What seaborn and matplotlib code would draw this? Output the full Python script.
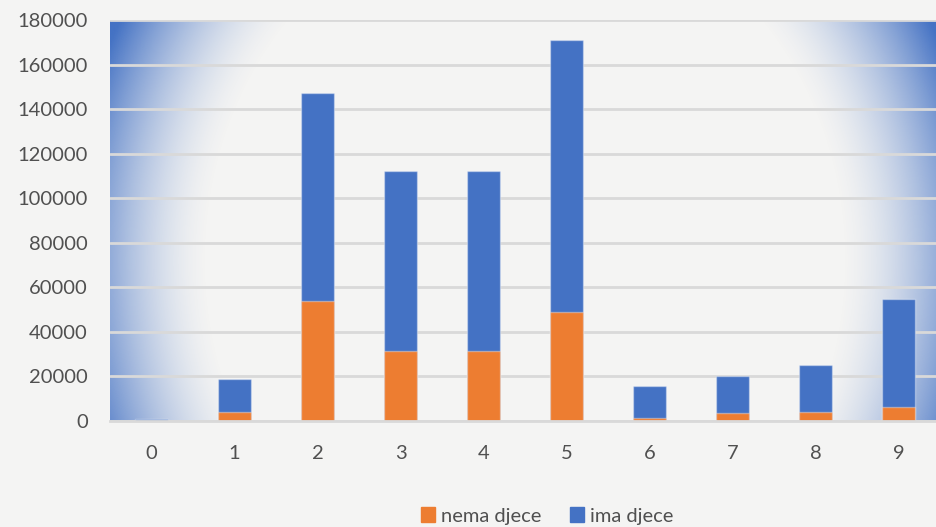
import numpy as np
import pandas as pd
import matplotlib
matplotlib.use("Agg")
import matplotlib.pyplot as plt
import seaborn as sns

# data
kategorije = ["0", "1", "2", "3", "4", "5", "6", "7", "8", "9"]
nema_djece = [200, 4200, 53700, 31300, 31300, 48800, 1200, 3600, 3900, 6200]
ima_djece = [900, 14600, 93500, 81100, 81100, 122300, 14500, 16500, 21300, 48700]
yticks = [0, 20000, 40000, 60000, 80000, 100000, 120000, 140000, 160000, 180000]

orange = "#ed7d31"
blue = "#4472c4"
text_col = "#505050"
bg = "#f4f4f3"

df = pd.DataFrame({"kat": kategorije, "nema": nema_djece, "ima": ima_djece})
df["ukupno"] = df["nema"] + df["ima"]

sns.set_style("white")
plt.rcParams["font.family"] = ["Lato", "DejaVu Sans"]

fig = plt.figure(figsize=(9.36, 5.27), dpi=100, facecolor=bg)
ax = fig.add_axes([110 / 936, 106 / 527, 830 / 936, 401 / 527])
ax.set_facecolor("none")

# soft blue gradient towards the sides of the plot area
nx, ny = 400, 200
xx, yy = np.meshgrid(np.linspace(-1, 1, nx), np.linspace(-1, 1, ny))
r = np.sqrt((xx / 0.82) ** 2 + ((-yy - 0.2) / 1.9) ** 2)
alpha = np.clip((r - 0.93) / 0.42, 0, 1) ** 1.6
rgba = np.zeros((ny, nx, 4))
rgba[..., :3] = matplotlib.colors.to_rgb(blue)
rgba[..., 3] = alpha
ax.imshow(rgba, extent=[0, 1, 0, 1], transform=ax.transAxes, origin="lower",
          aspect="auto", zorder=0, interpolation="bilinear")

sns.barplot(data=df, x="kat", y="ukupno", color=blue, width=0.4, ax=ax,
            saturation=1, edgecolor=(1, 1, 1, 0.35), linewidth=1, label="ima djece", zorder=2)
sns.barplot(data=df, x="kat", y="nema", color=orange, width=0.4, ax=ax,
            saturation=1, edgecolor=(1, 1, 1, 0.35), linewidth=1, label="nema djece", zorder=3)

ax.set_xlim(-0.5, 9.5)
ax.set_ylim(0, 180000)
ax.set_yticks(yticks)
ax.set_yticklabels([str(v) for v in yticks])
ax.set_xlabel("")
ax.set_ylabel("")
ax.set_axisbelow(True)
ax.yaxis.grid(True, color="#d9d9d9", linewidth=2, zorder=1)
ax.xaxis.grid(False)
for s in ["top", "right", "left"]:
    ax.spines[s].set_visible(False)
ax.spines["bottom"].set_color("#d9d9d9")
ax.spines["bottom"].set_linewidth(2)
ax.spines["bottom"].set_zorder(4)
ax.tick_params(axis="both", length=0, labelsize=14.5, labelcolor=text_col)
ax.tick_params(axis="x", pad=17)
ax.tick_params(axis="y", pad=16)
if ax.get_legend() is not None:
    ax.get_legend().remove()

handles = [matplotlib.patches.Patch(color=orange), matplotlib.patches.Patch(color=blue)]
fig.legend(handles, ["nema djece", "ima djece"], loc="center", ncol=2,
           bbox_to_anchor=(547 / 936, 1 - 516 / 527), frameon=False,
           fontsize=14.5, labelcolor=text_col, handlelength=0.7, handleheight=0.7,
           handletextpad=0.3, columnspacing=1.4, borderaxespad=0)

fig.savefig("out.png", dpi=100, facecolor=bg)
